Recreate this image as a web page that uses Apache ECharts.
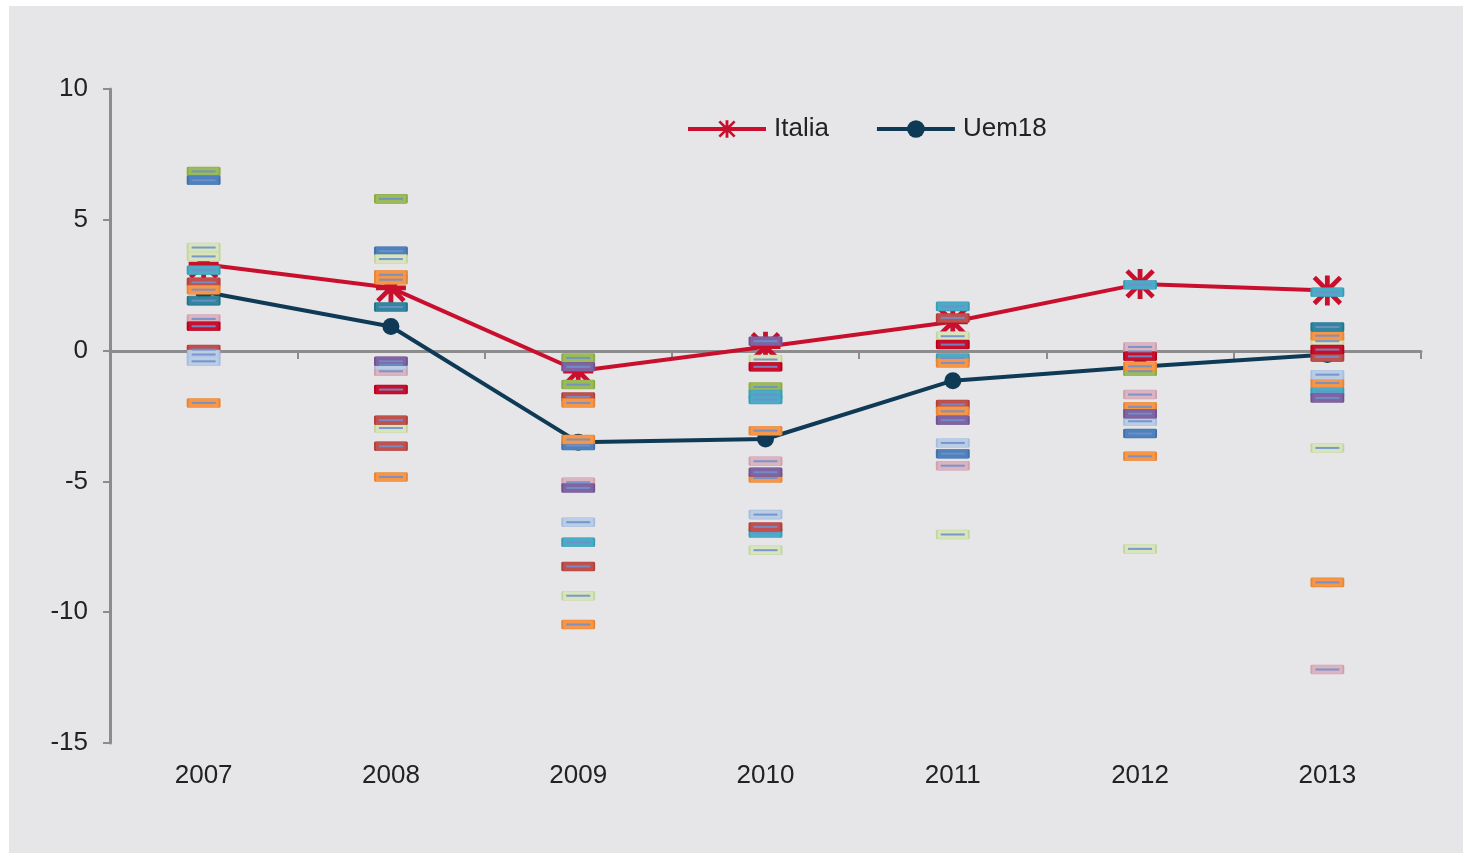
<!DOCTYPE html>
<html>
<head>
<meta charset="utf-8">
<script src="https://cdn.jsdelivr.net/npm/echarts@6/dist/echarts.min.js"></script>
<style>
html,body{margin:0;padding:0;background:#fff;}
#c{width:1463px;height:853px;}
</style>
</head>
<body>
<div id="c"></div>
<script>
// ---- data ----
var years = ['2007','2008','2009','2010','2011','2012','2013'];
var italia = [3.3, 2.4, -0.78, 0.15, 1.1, 2.55, 2.3];
var uem18 = [2.25, 0.92, -3.5, -3.38, -1.15, -0.62, -0.15];
var yTicks = [-15, -10, -5, 0, 5, 10];

// other countries' values, grouped by marker colour: [year, value]
var grpGreen = [['2007',6.85],['2008',5.8],['2009',-0.28],['2009',-1.3],['2010',-1.39],['2012',-0.79]];
var grpBlue = [['2007',6.51],['2008',3.8],['2009',-3.63],['2011',-3.94],['2012',-3.17]];
var grpLightGreen = [['2007',3.94],['2007',3.6],['2008',3.5],['2008',-2.96],['2009',-9.37],['2010',-0.34],['2010',-7.63],['2011',0.55],['2011',-7.03],['2012',-7.58],['2013',0.36],['2013',-3.72]];
var grpCyan = [['2007',3.07],['2009',-7.33],['2010',-1.68],['2010',-1.87],['2010',-6.97],['2011',1.69],['2011',-0.28],['2012',2.52],['2013',2.23],['2013',-1.56]];
var grpRedBrown = [['2007',2.61],['2007',0.04],['2008',-2.66],['2008',-3.66],['2009',-1.77],['2009',-8.25],['2010',-6.74],['2011',1.25],['2011',-2.06],['2013',-0.24]];
var grpOrange = [['2007',2.33],['2007',-2.0],['2008',2.9],['2008',2.71],['2008',-4.83],['2009',-2.0],['2009',-3.4],['2009',-10.47],['2010',-3.06],['2010',-4.87],['2011',-0.47],['2011',-2.32],['2012',-0.03],['2012',-0.6],['2012',-2.15],['2012',-4.04],['2013',0.57],['2013',-1.24],['2013',-8.86]];
var grpTeal = [['2007',1.91],['2008',1.67],['2013',0.9]];
var grpPink = [['2007',1.21],['2008',-0.79],['2009',-5.03],['2010',-4.23],['2011',-4.4],['2012',0.14],['2012',-1.68],['2013',-12.19]];
var grpCrimson = [['2007',0.93],['2008',-1.49],['2010',-0.62],['2011',0.23],['2012',-0.22],['2013',0.04]];
var grpLightBlue = [['2007',-0.15],['2007',-0.41],['2008',-0.54],['2009',-6.56],['2010',-6.27],['2011',-3.53],['2012',-2.7],['2013',-0.92]];
var grpPurple = [['2008',-0.41],['2009',-0.62],['2009',-5.25],['2010',0.36],['2010',-4.65],['2011',-2.66],['2012',-2.41],['2013',-1.81]];

var groups = [
  {d: grpGreen, c: '#9bbb59', b: '#8aab48'},
  {d: grpBlue, c: '#4f81bd', b: '#3f71ad'},
  {d: grpLightGreen, c: '#d7e4bd', b: '#c3d69b'},
  {d: grpCyan, c: '#4bacc6', b: '#3b9cb6'},
  {d: grpRedBrown, c: '#c0504d', b: '#b0403d'},
  {d: grpOrange, c: '#f79646', b: '#e78636'},
  {d: grpTeal, c: '#31859c', b: '#21758c'},
  {d: grpPink, c: '#dcb4c0', b: '#d0a0b0'},
  {d: grpCrimson, c: '#c8102e', b: '#b8001e'},
  {d: grpLightBlue, c: '#b9cde5', b: '#a6bde0'},
  {d: grpPurple, c: '#8064a2', b: '#705492'}
];

var star = 'path://M42,0 L58,0 L58,100 L42,100 Z M0,42 L100,42 L100,58 L0,58 Z M12,1 L99,88 L88,99 L1,12 Z M88,1 L99,12 L12,99 L1,88 Z';

var series = [
  {name: 'Italia', type: 'line', data: italia, z: 3,
   lineStyle: {color: '#c8102e', width: 4}, itemStyle: {color: '#c8102e'},
   symbol: star, symbolSize: 30, showAllSymbol: true},
  {name: 'Uem18', type: 'line', data: uem18, z: 3,
   lineStyle: {color: '#0f3a55', width: 4}, itemStyle: {color: '#0f3a55'},
   symbol: 'circle', symbolSize: 17}
];
groups.forEach(function(g){
  series.push({type: 'scatter', data: g.d, z: 5, symbol: 'path://M1,0 L31,0 Q32,0 32,1 L32,8 Q32,9 31,9 L1,9 Q0,9 0,8 L0,1 Q0,0 1,0 Z', symbolSize: [32, 9],
    itemStyle: {color: g.c, borderColor: g.b, borderWidth: 1, opacity: 1}, silent: true});
  series.push({type: 'scatter', data: g.d, z: 6, symbol: 'rect', symbolSize: [24, 2],
    itemStyle: {color: '#6f8fcc', opacity: 0.9}, silent: true});
});

var chart = echarts.init(document.getElementById('c'));
chart.setOption({
  animation: false,
  backgroundColor: '#ffffff',
  graphic: [{type: 'rect', z: -10, silent: true, shape: {x: 9, y: 6, width: 1454, height: 847}, style: {fill: '#e6e6e8'}}],
  legend: {
    data: [{name: 'Italia', lineStyle: {width: 4}}, {name: 'Uem18', lineStyle: {width: 4}}],
    left: 681, top: 111, itemWidth: 78, itemHeight: 22, itemGap: 46,
    textStyle: {fontSize: 26, color: '#222', fontFamily: 'Liberation Sans, Arial, sans-serif', padding: [0, 0, 0, 3]}
  },
  grid: {left: 110, right: 42, top: 89, bottom: 110, containLabel: false, outerBoundsMode: 'none'},
  xAxis: [
    {type: 'category', data: years, position: 'bottom',
     axisLine: {show: false, onZero: false}, axisTick: {show: false},
     axisLabel: {fontSize: 26, color: '#222', margin: 20, fontFamily: 'Liberation Sans, Arial, sans-serif'}},
    {type: 'category', data: years, position: 'bottom', offset: -392,
     axisLine: {show: true, onZero: false, lineStyle: {color: '#8c8c8c', width: 3}},
     axisTick: {show: true, length: 8, lineStyle: {color: '#8c8c8c', width: 2}},
     axisLabel: {show: false}}
  ],
  yAxis: {type: 'value', min: -15, max: 10, interval: 5,
    axisLine: {show: true, lineStyle: {color: '#8c8c8c', width: 3}},
    axisTick: {show: true, length: 7, lineStyle: {color: '#8c8c8c', width: 2}},
    splitLine: {show: false},
    axisLabel: {fontSize: 26, color: '#222', margin: 22, fontFamily: 'Liberation Sans, Arial, sans-serif',
      formatter: function(v){ return yTicks.indexOf(v) >= 0 ? String(v) : ''; }}},
  series: series
});
</script>
</body>
</html>
